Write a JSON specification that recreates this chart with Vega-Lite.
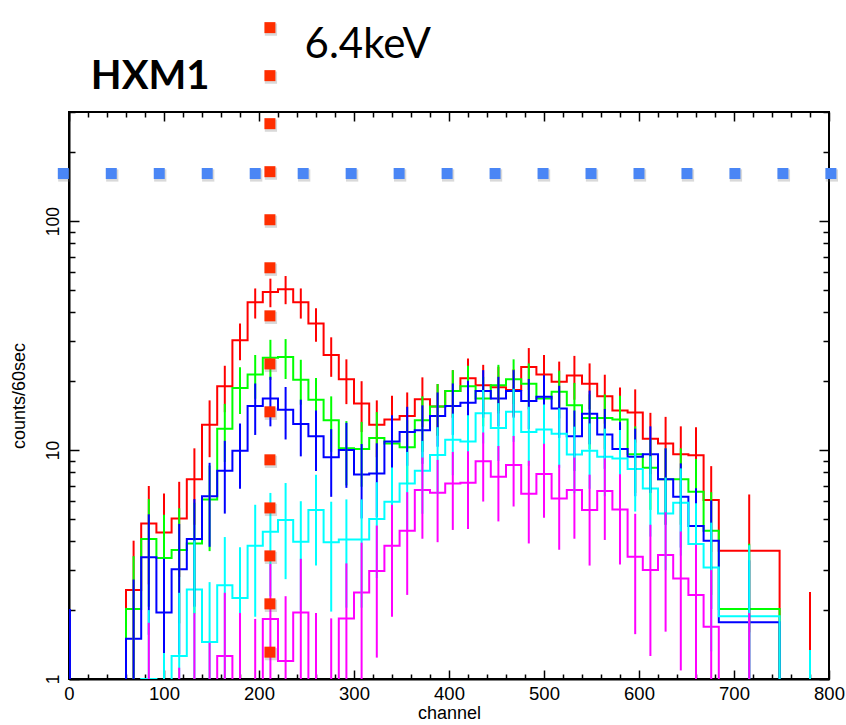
{
  "$schema": "https://vega.github.io/schema/vega-lite/v6.json",
  "width": 760,
  "height": 567,
  "autosize": {"type": "none"},
  "padding": {"left": 69, "top": 112, "right": 17, "bottom": 46},
  "background": "white",
  "config": {"view": {"stroke": "black", "strokeWidth": 2}, "font": "Liberation Sans"},
  "resolve": {"axis": {"x": "independent", "y": "independent"}},
  "datasets": {
    "hist": [
      {"s":"r","x":60,"v":0.5},{"s":"r","x":76,"v":2.45},{"s":"r","x":92,"v":4.78},{"s":"r","x":108,"v":4.37},{"s":"r","x":124,"v":5.03},{"s":"r","x":140,"v":7.45},{"s":"r","x":156,"v":12.9},{"s":"r","x":172,"v":19.0},{"s":"r","x":188,"v":30.2},{"s":"r","x":204,"v":44.2},{"s":"r","x":220,"v":49.1},{"s":"r","x":236,"v":50.5},{"s":"r","x":252,"v":44.2},{"s":"r","x":268,"v":35.7},{"s":"r","x":284,"v":26.0},{"s":"r","x":300,"v":20.4},{"s":"r","x":316,"v":16.0},{"s":"r","x":332,"v":12.9},{"s":"r","x":348,"v":13.6},{"s":"r","x":364,"v":14.1},{"s":"r","x":380,"v":16.7},{"s":"r","x":396,"v":15.5},{"s":"r","x":412,"v":18.1},{"s":"r","x":428,"v":20.6},{"s":"r","x":444,"v":19.2},{"s":"r","x":460,"v":18.8},{"s":"r","x":476,"v":18.3},{"s":"r","x":492,"v":23.1},{"s":"r","x":508,"v":21.4},{"s":"r","x":524,"v":19.9},{"s":"r","x":540,"v":21.2},{"s":"r","x":556,"v":19.5},{"s":"r","x":572,"v":17.2},{"s":"r","x":588,"v":14.9},{"s":"r","x":604,"v":14.6},{"s":"r","x":620,"v":11.2},{"s":"r","x":636,"v":10.7},{"s":"r","x":652,"v":9.6},{"s":"r","x":668,"v":9.5},{"s":"r","x":684,"v":6.05},{"s":"r","x":748,"v":3.63},{"s":"r","x":812,"v":0.5},
      {"s":"g","x":60,"v":0.5},{"s":"g","x":76,"v":2.02},{"s":"g","x":92,"v":4.09},{"s":"g","x":108,"v":3.38},{"s":"g","x":124,"v":3.66},{"s":"g","x":140,"v":3.91},{"s":"g","x":156,"v":6.09},{"s":"g","x":172,"v":12.4},{"s":"g","x":188,"v":18.7},{"s":"g","x":204,"v":21.4},{"s":"g","x":220,"v":25.3},{"s":"g","x":236,"v":25.5},{"s":"g","x":252,"v":20.3},{"s":"g","x":268,"v":16.6},{"s":"g","x":284,"v":13.5},{"s":"g","x":300,"v":10.2},{"s":"g","x":316,"v":10.1},{"s":"g","x":332,"v":11.3},{"s":"g","x":348,"v":10.7},{"s":"g","x":364,"v":10.3},{"s":"g","x":380,"v":13.5},{"s":"g","x":396,"v":15.5},{"s":"g","x":412,"v":18.1},{"s":"g","x":428,"v":19.0},{"s":"g","x":444,"v":16.8},{"s":"g","x":460,"v":19.2},{"s":"g","x":476,"v":20.4},{"s":"g","x":492,"v":19.5},{"s":"g","x":508,"v":16.8},{"s":"g","x":524,"v":18.0},{"s":"g","x":540,"v":15.7},{"s":"g","x":556,"v":13.8},{"s":"g","x":572,"v":13.8},{"s":"g","x":588,"v":13.6},{"s":"g","x":604,"v":9.6},{"s":"g","x":620,"v":8.37},{"s":"g","x":636,"v":7.45},{"s":"g","x":652,"v":7.45},{"s":"g","x":668,"v":6.58},{"s":"g","x":684,"v":4.44},{"s":"g","x":748,"v":2.02},{"s":"g","x":812,"v":0.5},
      {"s":"b","x":0,"v":0.5},{"s":"b","x":1,"v":2.0},{"s":"b","x":60,"v":0.5},{"s":"b","x":76,"v":1.5},{"s":"b","x":92,"v":3.4},{"s":"b","x":108,"v":1.95},{"s":"b","x":124,"v":3.02},{"s":"b","x":140,"v":4.09},{"s":"b","x":156,"v":6.29},{"s":"b","x":172,"v":8.13},{"s":"b","x":188,"v":9.93},{"s":"b","x":204,"v":15.6},{"s":"b","x":220,"v":16.8},{"s":"b","x":236,"v":15.0},{"s":"b","x":252,"v":13.0},{"s":"b","x":268,"v":11.5},{"s":"b","x":284,"v":9.3},{"s":"b","x":300,"v":10.0},{"s":"b","x":316,"v":7.83},{"s":"b","x":332,"v":7.9},{"s":"b","x":348,"v":10.9},{"s":"b","x":364,"v":12.0},{"s":"b","x":380,"v":12.2},{"s":"b","x":396,"v":14.1},{"s":"b","x":412,"v":15.6},{"s":"b","x":428,"v":16.1},{"s":"b","x":444,"v":18.1},{"s":"b","x":460,"v":16.8},{"s":"b","x":476,"v":18.1},{"s":"b","x":492,"v":16.4},{"s":"b","x":508,"v":17.1},{"s":"b","x":524,"v":15.2},{"s":"b","x":540,"v":11.5},{"s":"b","x":556,"v":14.4},{"s":"b","x":572,"v":11.7},{"s":"b","x":588,"v":10.1},{"s":"b","x":604,"v":9.35},{"s":"b","x":620,"v":9.6},{"s":"b","x":636,"v":7.45},{"s":"b","x":652,"v":6.25},{"s":"b","x":668,"v":4.66},{"s":"b","x":684,"v":4.02},{"s":"b","x":748,"v":1.77},{"s":"b","x":812,"v":0.5},
      {"s":"c","x":60,"v":0.5},{"s":"c","x":76,"v":0.5},{"s":"c","x":92,"v":1.0},{"s":"c","x":108,"v":0.5},{"s":"c","x":124,"v":1.26},{"s":"c","x":140,"v":2.46},{"s":"c","x":156,"v":1.45},{"s":"c","x":172,"v":2.57},{"s":"c","x":188,"v":2.26},{"s":"c","x":204,"v":3.82},{"s":"c","x":220,"v":4.4},{"s":"c","x":236,"v":4.95},{"s":"c","x":252,"v":3.98},{"s":"c","x":268,"v":5.47},{"s":"c","x":284,"v":3.96},{"s":"c","x":300,"v":4.07},{"s":"c","x":316,"v":4.07},{"s":"c","x":332,"v":5.0},{"s":"c","x":348,"v":5.95},{"s":"c","x":364,"v":7.15},{"s":"c","x":380,"v":8.12},{"s":"c","x":396,"v":9.51},{"s":"c","x":412,"v":11.1},{"s":"c","x":428,"v":10.9},{"s":"c","x":444,"v":14.5},{"s":"c","x":460,"v":12.5},{"s":"c","x":476,"v":14.7},{"s":"c","x":492,"v":12.0},{"s":"c","x":508,"v":12.3},{"s":"c","x":524,"v":11.8},{"s":"c","x":540,"v":9.57},{"s":"c","x":556,"v":9.93},{"s":"c","x":572,"v":9.35},{"s":"c","x":588,"v":9.2},{"s":"c","x":604,"v":8.26},{"s":"c","x":620,"v":6.8},{"s":"c","x":636,"v":5.29},{"s":"c","x":652,"v":5.89},{"s":"c","x":668,"v":3.89},{"s":"c","x":684,"v":3.07},{"s":"c","x":748,"v":1.88},{"s":"c","x":812,"v":0.5},
      {"s":"m","x":60,"v":0.5},{"s":"m","x":76,"v":0.5},{"s":"m","x":92,"v":0.5},{"s":"m","x":108,"v":0.5},{"s":"m","x":124,"v":0.5},{"s":"m","x":140,"v":0.5},{"s":"m","x":156,"v":0.5},{"s":"m","x":172,"v":1.26},{"s":"m","x":188,"v":0.5},{"s":"m","x":204,"v":0.5},{"s":"m","x":220,"v":1.83},{"s":"m","x":236,"v":1.2},{"s":"m","x":252,"v":1.95},{"s":"m","x":268,"v":0.5},{"s":"m","x":284,"v":0.5},{"s":"m","x":300,"v":1.84},{"s":"m","x":316,"v":2.39},{"s":"m","x":332,"v":2.96},{"s":"m","x":348,"v":3.82},{"s":"m","x":364,"v":4.44},{"s":"m","x":380,"v":6.69},{"s":"m","x":396,"v":6.51},{"s":"m","x":412,"v":7.15},{"s":"m","x":428,"v":7.2},{"s":"m","x":444,"v":8.95},{"s":"m","x":460,"v":7.65},{"s":"m","x":476,"v":8.6},{"s":"m","x":492,"v":6.45},{"s":"m","x":508,"v":7.86},{"s":"m","x":524,"v":6.15},{"s":"m","x":540,"v":6.69},{"s":"m","x":556,"v":5.47},{"s":"m","x":572,"v":6.62},{"s":"m","x":588,"v":5.5},{"s":"m","x":604,"v":3.42},{"s":"m","x":620,"v":2.99},{"s":"m","x":636,"v":3.48},{"s":"m","x":652,"v":2.75},{"s":"m","x":668,"v":2.33},{"s":"m","x":684,"v":1.69},{"s":"m","x":748,"v":0.5},{"s":"m","x":812,"v":0.5}
    ],
    "err": [
      {"s":"r","c":68,"lo":0.89,"hi":4.02},{"s":"r","c":84,"lo":2.59,"hi":6.97},{"s":"r","c":100,"lo":2.28,"hi":6.46},{"s":"r","c":116,"lo":2.79,"hi":7.27},{"s":"r","c":132,"lo":4.72,"hi":10.18},{"s":"r","c":148,"lo":9.31,"hi":16.49},{"s":"r","c":164,"lo":14.64,"hi":23.36},{"s":"r","c":180,"lo":24.7,"hi":35.7},{"s":"r","c":196,"lo":37.55,"hi":50.85},{"s":"r","c":212,"lo":42.09,"hi":56.11},{"s":"r","c":228,"lo":43.39,"hi":57.61},{"s":"r","c":244,"lo":37.55,"hi":50.85},{"s":"r","c":260,"lo":29.73,"hi":41.68},{"s":"r","c":276,"lo":20.9,"hi":31.1},{"s":"r","c":292,"lo":15.88,"hi":24.92},{"s":"r","c":308,"lo":12,"hi":20},{"s":"r","c":324,"lo":9.31,"hi":16.49},{"s":"r","c":340,"lo":9.91,"hi":17.29},{"s":"r","c":356,"lo":10.35,"hi":17.86},{"s":"r","c":372,"lo":12.61,"hi":20.79},{"s":"r","c":388,"lo":11.56,"hi":19.44},{"s":"r","c":404,"lo":13.85,"hi":22.35},{"s":"r","c":420,"lo":16.06,"hi":25.14},{"s":"r","c":436,"lo":14.82,"hi":23.58},{"s":"r","c":452,"lo":14.46,"hi":23.14},{"s":"r","c":468,"lo":14.02,"hi":22.58},{"s":"r","c":484,"lo":18.29,"hi":27.91},{"s":"r","c":500,"lo":16.77,"hi":26.03},{"s":"r","c":516,"lo":15.44,"hi":24.36},{"s":"r","c":532,"lo":16.6,"hi":25.8},{"s":"r","c":548,"lo":15.08,"hi":23.92},{"s":"r","c":564,"lo":13.05,"hi":21.35},{"s":"r","c":580,"lo":11.04,"hi":18.76},{"s":"r","c":596,"lo":10.78,"hi":18.42},{"s":"r","c":612,"lo":7.85,"hi":14.55},{"s":"r","c":628,"lo":7.43,"hi":13.97},{"s":"r","c":644,"lo":6.5,"hi":12.7},{"s":"r","c":660,"lo":6.42,"hi":12.58},{"s":"r","c":676,"lo":3.59,"hi":8.51},{"s":"r","c":716,"lo":1.6,"hi":6.4},{"s":"r","c":780,"lo":0.3,"hi":2.4},
      {"s":"g","c":68,"lo":0.6,"hi":3.44},{"s":"g","c":84,"lo":2.07,"hi":6.11},{"s":"g","c":100,"lo":1.54,"hi":5.22},{"s":"g","c":116,"lo":1.75,"hi":5.57},{"s":"g","c":132,"lo":1.93,"hi":5.89},{"s":"g","c":148,"lo":3.62,"hi":8.56},{"s":"g","c":164,"lo":8.88,"hi":15.92},{"s":"g","c":180,"lo":14.38,"hi":23.02},{"s":"g","c":196,"lo":16.77,"hi":26.03},{"s":"g","c":212,"lo":20.27,"hi":30.33},{"s":"g","c":228,"lo":20.45,"hi":30.55},{"s":"g","c":244,"lo":15.79,"hi":24.81},{"s":"g","c":260,"lo":12.53,"hi":20.67},{"s":"g","c":276,"lo":9.83,"hi":17.17},{"s":"g","c":292,"lo":7.01,"hi":13.39},{"s":"g","c":308,"lo":6.92,"hi":13.28},{"s":"g","c":324,"lo":7.94,"hi":14.66},{"s":"g","c":340,"lo":7.43,"hi":13.97},{"s":"g","c":356,"lo":7.09,"hi":13.51},{"s":"g","c":372,"lo":9.83,"hi":17.17},{"s":"g","c":388,"lo":11.56,"hi":19.44},{"s":"g","c":404,"lo":13.85,"hi":22.35},{"s":"g","c":420,"lo":14.64,"hi":23.36},{"s":"g","c":436,"lo":12.7,"hi":20.9},{"s":"g","c":452,"lo":14.82,"hi":23.58},{"s":"g","c":468,"lo":15.88,"hi":24.92},{"s":"g","c":484,"lo":15.08,"hi":23.92},{"s":"g","c":500,"lo":12.7,"hi":20.9},{"s":"g","c":516,"lo":13.76,"hi":22.24},{"s":"g","c":532,"lo":11.74,"hi":19.66},{"s":"g","c":548,"lo":10.09,"hi":17.52},{"s":"g","c":564,"lo":10.09,"hi":17.52},{"s":"g","c":580,"lo":9.91,"hi":17.29},{"s":"g","c":596,"lo":6.5,"hi":12.7},{"s":"g","c":612,"lo":5.48,"hi":11.26},{"s":"g","c":628,"lo":4.72,"hi":10.18},{"s":"g","c":644,"lo":4.72,"hi":10.18},{"s":"g","c":660,"lo":4.02,"hi":9.15},{"s":"g","c":676,"lo":2.33,"hi":6.55},{"s":"g","c":716,"lo":0.5,"hi":3.9},
      {"s":"b","c":68,"lo":0.3,"hi":2.72},{"s":"b","c":84,"lo":1.56,"hi":5.24},{"s":"b","c":100,"lo":0.55,"hi":3.35},{"s":"b","c":116,"lo":1.28,"hi":4.76},{"s":"b","c":132,"lo":2.07,"hi":6.11},{"s":"b","c":148,"lo":3.78,"hi":8.8},{"s":"b","c":164,"lo":5.28,"hi":10.98},{"s":"b","c":180,"lo":6.78,"hi":13.08},{"s":"b","c":196,"lo":11.65,"hi":19.55},{"s":"b","c":212,"lo":12.7,"hi":20.9},{"s":"b","c":228,"lo":11.13,"hi":18.87},{"s":"b","c":244,"lo":9.39,"hi":16.61},{"s":"b","c":260,"lo":8.11,"hi":14.89},{"s":"b","c":276,"lo":6.25,"hi":12.35},{"s":"b","c":292,"lo":6.84,"hi":13.16},{"s":"b","c":308,"lo":5.03,"hi":10.63},{"s":"b","c":324,"lo":5.09,"hi":10.71},{"s":"b","c":340,"lo":7.6,"hi":14.2},{"s":"b","c":356,"lo":8.54,"hi":15.46},{"s":"b","c":372,"lo":8.71,"hi":15.69},{"s":"b","c":388,"lo":10.35,"hi":17.86},{"s":"b","c":404,"lo":11.65,"hi":19.55},{"s":"b","c":420,"lo":12.09,"hi":20.11},{"s":"b","c":436,"lo":13.85,"hi":22.35},{"s":"b","c":452,"lo":12.7,"hi":20.9},{"s":"b","c":468,"lo":13.85,"hi":22.35},{"s":"b","c":484,"lo":12.35,"hi":20.45},{"s":"b","c":500,"lo":12.96,"hi":21.24},{"s":"b","c":516,"lo":11.3,"hi":19.1},{"s":"b","c":532,"lo":8.11,"hi":14.89},{"s":"b","c":548,"lo":10.6,"hi":18.2},{"s":"b","c":564,"lo":8.28,"hi":15.12},{"s":"b","c":580,"lo":6.92,"hi":13.28},{"s":"b","c":596,"lo":6.29,"hi":12.41},{"s":"b","c":612,"lo":6.5,"hi":12.7},{"s":"b","c":628,"lo":4.72,"hi":10.18},{"s":"b","c":644,"lo":3.75,"hi":8.75},{"s":"b","c":660,"lo":2.5,"hi":6.82},{"s":"b","c":676,"lo":2.02,"hi":6.03},{"s":"b","c":716,"lo":0.5,"hi":3.3},
      {"s":"c","c":84,"lo":0.3,"hi":2.0},{"s":"c","c":100,"lo":0.3,"hi":1.3},{"s":"c","c":116,"lo":0.3,"hi":2.38},{"s":"c","c":132,"lo":0.89,"hi":4.03},{"s":"c","c":148,"lo":0.3,"hi":2.65},{"s":"c","c":164,"lo":0.97,"hi":4.17},{"s":"c","c":180,"lo":0.76,"hi":3.76},{"s":"c","c":196,"lo":1.87,"hi":5.77},{"s":"c","c":212,"lo":2.3,"hi":6.5},{"s":"c","c":228,"lo":2.73,"hi":7.18},{"s":"c","c":244,"lo":1.99,"hi":5.98},{"s":"c","c":260,"lo":3.13,"hi":7.81},{"s":"c","c":276,"lo":1.97,"hi":5.95},{"s":"c","c":292,"lo":2.05,"hi":6.09},{"s":"c","c":308,"lo":2.05,"hi":6.09},{"s":"c","c":324,"lo":2.76,"hi":7.24},{"s":"c","c":340,"lo":3.51,"hi":8.39},{"s":"c","c":356,"lo":4.48,"hi":9.82},{"s":"c","c":372,"lo":5.27,"hi":10.97},{"s":"c","c":388,"lo":6.43,"hi":12.59},{"s":"c","c":404,"lo":7.77,"hi":14.43},{"s":"c","c":420,"lo":7.6,"hi":14.2},{"s":"c","c":436,"lo":10.69,"hi":18.31},{"s":"c","c":452,"lo":8.96,"hi":16.04},{"s":"c","c":468,"lo":10.87,"hi":18.53},{"s":"c","c":484,"lo":8.54,"hi":15.46},{"s":"c","c":500,"lo":8.79,"hi":15.81},{"s":"c","c":516,"lo":8.37,"hi":15.24},{"s":"c","c":532,"lo":6.48,"hi":12.66},{"s":"c","c":548,"lo":6.78,"hi":13.08},{"s":"c","c":564,"lo":6.29,"hi":12.41},{"s":"c","c":580,"lo":6.17,"hi":12.23},{"s":"c","c":596,"lo":5.39,"hi":11.13},{"s":"c","c":612,"lo":4.19,"hi":9.41},{"s":"c","c":628,"lo":2.99,"hi":7.59},{"s":"c","c":644,"lo":3.46,"hi":8.32},{"s":"c","c":660,"lo":1.92,"hi":5.86},{"s":"c","c":676,"lo":1.32,"hi":4.82},{"s":"c","c":716,"lo":0.5,"hi":3.84},{"s":"c","c":780,"lo":0.3,"hi":1.34},
      {"s":"m","c":84,"lo":0.3,"hi":1.76},{"s":"m","c":116,"lo":0.3,"hi":1.12},{"s":"m","c":132,"lo":0.3,"hi":1.94},{"s":"m","c":148,"lo":0.3,"hi":1.44},{"s":"m","c":164,"lo":0.3,"hi":2.38},{"s":"m","c":180,"lo":0.3,"hi":1.94},{"s":"m","c":196,"lo":0.3,"hi":1.83},{"s":"m","c":212,"lo":0.48,"hi":3.18},{"s":"m","c":228,"lo":0.3,"hi":2.3},{"s":"m","c":244,"lo":0.55,"hi":3.35},{"s":"m","c":260,"lo":0.3,"hi":1.94},{"s":"m","c":276,"lo":0.3,"hi":1.84},{"s":"m","c":292,"lo":0.48,"hi":3.2},{"s":"m","c":308,"lo":0.84,"hi":3.94},{"s":"m","c":324,"lo":1.24,"hi":4.68},{"s":"m","c":340,"lo":1.87,"hi":5.77},{"s":"m","c":356,"lo":2.33,"hi":6.55},{"s":"m","c":372,"lo":4.1,"hi":9.28},{"s":"m","c":388,"lo":3.96,"hi":9.06},{"s":"m","c":404,"lo":4.48,"hi":9.82},{"s":"m","c":420,"lo":4.52,"hi":9.88},{"s":"m","c":436,"lo":5.96,"hi":11.94},{"s":"m","c":452,"lo":4.88,"hi":10.42},{"s":"m","c":468,"lo":5.67,"hi":11.53},{"s":"m","c":484,"lo":3.91,"hi":8.99},{"s":"m","c":500,"lo":5.06,"hi":10.66},{"s":"m","c":516,"lo":3.67,"hi":8.63},{"s":"m","c":532,"lo":4.1,"hi":9.28},{"s":"m","c":548,"lo":3.13,"hi":7.81},{"s":"m","c":564,"lo":4.05,"hi":9.19},{"s":"m","c":580,"lo":3.16,"hi":7.85},{"s":"m","c":596,"lo":1.57,"hi":5.27},{"s":"m","c":612,"lo":1.26,"hi":4.72},{"s":"m","c":628,"lo":1.61,"hi":5.35},{"s":"m","c":644,"lo":1.09,"hi":4.41},{"s":"m","c":660,"lo":0.8,"hi":3.86},{"s":"m","c":676,"lo":0.39,"hi":2.99},{"s":"m","c":716,"lo":0.3,"hi":1.94}
    ],
    "marks": [
      {"k":"h","c":-6.0,"v":161.6},{"k":"h","c":44.5,"v":161.6},{"k":"h","c":95.0,"v":161.6},{"k":"h","c":145.5,"v":161.6},{"k":"h","c":196.0,"v":161.6},{"k":"h","c":246.5,"v":161.6},{"k":"h","c":297.0,"v":161.6},{"k":"h","c":347.5,"v":161.6},{"k":"h","c":398.0,"v":161.6},{"k":"h","c":448.5,"v":161.6},{"k":"h","c":499.0,"v":161.6},{"k":"h","c":549.5,"v":161.6},{"k":"h","c":600.0,"v":161.6},{"k":"h","c":650.5,"v":161.6},{"k":"h","c":701.0,"v":161.6},{"k":"h","c":751.5,"v":161.6},{"k":"h","c":802.0,"v":161.6},
      {"k":"v","c":211.5,"v":701},{"k":"v","c":211.5,"v":432.5},{"k":"v","c":211.5,"v":266.8},{"k":"v","c":211.5,"v":164.6},{"k":"v","c":211.5,"v":101.5},{"k":"v","c":211.5,"v":62.6},{"k":"v","c":211.5,"v":38.6},{"k":"v","c":211.5,"v":23.8},{"k":"v","c":211.5,"v":14.7},{"k":"v","c":211.5,"v":9.07},{"k":"v","c":211.5,"v":5.59},{"k":"v","c":211.5,"v":3.45},{"k":"v","c":211.5,"v":2.13},{"k":"v","c":211.5,"v":1.31}
    ],
    "notes": [
      {"t":"HXM1","c":23,"v":377,"w":"b"},
      {"t":"6.4keV","c":248,"v":515,"w":"n"}
    ]
  },
  "layer": [
    {
      "data": {"name": "hist"},
      "mark": {"type": "line", "interpolate": "step-before", "clip": true, "strokeWidth": 2},
      "encoding": {
        "x": {"field": "x", "type": "quantitative", "scale": {"domain": [0, 800], "nice": false, "zero": false},
          "axis": {"orient": "bottom", "values": [0,20,40,60,80,100,120,140,160,180,200,220,240,260,280,300,320,340,360,380,400,420,440,460,480,500,520,540,560,580,600,620,640,660,680,700,720,740,760,780,800],
            "labelExpr": "datum.value % 100 === 0 ? '' + datum.value : ''",
            "tickSize": {"condition": {"test": "datum.value % 100 === 0", "value": -9}, "value": -5},
            "tickWidth": 1.5, "tickColor": "black", "domainColor": "black", "domainWidth": 2,
            "labelFont": "Liberation Sans", "labelFontSize": 18.5, "labelColor": "black", "labelPadding": 14,
            "labelFlush": false, "labelOverlap": false, "grid": false,
            "title": "channel", "titleFont": "Liberation Sans", "titleFontSize": 18, "titleFontWeight": "normal", "titleColor": "black", "titlePadding": -2}},
        "y": {"field": "v", "type": "quantitative", "scale": {"type": "log", "domain": [1, 300], "nice": false},
          "axis": {"orient": "left", "values": [1,2,3,4,5,6,7,8,9,10,20,30,40,50,60,70,80,90,100,200,300],
            "labelExpr": "(datum.value === 1 || datum.value === 10 || datum.value === 100) ? '' + datum.value : ''",
            "tickSize": {"condition": {"test": "datum.value === 1 || datum.value === 10 || datum.value === 100", "value": -10}, "value": -6},
            "tickWidth": 1.5, "tickColor": "black", "domainColor": "black", "domainWidth": 2,
            "labelFont": "Liberation Sans", "labelFontSize": 17.5, "labelColor": "black", "labelPadding": 21,
            "labelAngle": -90, "labelAlign": "center", "labelBaseline": "alphabetic",
            "labelFlush": false, "labelOverlap": false, "grid": false,
            "title": "counts/60sec", "titleFont": "Liberation Sans", "titleFontSize": 18, "titleFontWeight": "normal", "titleColor": "black", "titlePadding": 12}},
        "color": {"field": "s", "type": "nominal", "scale": {"domain": ["r","g","b","c","m"], "range": ["#ff0000","#00ff00","#0000ff","#00ffff","#ff00ff"]}, "legend": null}
      }
    },
    {
      "data": {"name": "err"},
      "mark": {"type": "rule", "clip": true, "strokeWidth": 2},
      "encoding": {
        "x": {"field": "c", "type": "quantitative", "scale": {"domain": [0, 800], "nice": false, "zero": false}, "axis": null},
        "y": {"field": "lo", "type": "quantitative", "scale": {"type": "log", "domain": [1, 300], "nice": false}, "axis": null},
        "y2": {"field": "hi"},
        "color": {"field": "s", "type": "nominal", "legend": null}
      }
    },
    {
      "data": {"name": "marks"},
      "mark": {"type": "point", "shape": "square", "filled": true, "size": 150, "color": "#666666", "opacity": 0.25, "xOffset": 1, "yOffset": 2, "clip": false, "strokeWidth": 0},
      "encoding": {
        "x": {"field": "c", "type": "quantitative", "axis": null},
        "y": {"field": "v", "type": "quantitative", "axis": null}
      }
    },
    {
      "data": {"name": "marks"},
      "transform": [{"filter": "datum.k === 'h'"}],
      "mark": {"type": "point", "shape": "square", "filled": true, "size": 121, "color": "#4a86f5", "opacity": 1, "clip": false, "strokeWidth": 0},
      "encoding": {
        "x": {"field": "c", "type": "quantitative",
          "axis": {"orient": "top", "values": [0,20,40,60,80,100,120,140,160,180,200,220,240,260,280,300,320,340,360,380,400,420,440,460,480,500,520,540,560,580,600,620,640,660,680,700,720,740,760,780,800],
            "labels": false, "domain": false, "grid": false, "title": null,
            "tickSize": {"condition": {"test": "datum.value % 100 === 0", "value": -9}, "value": -5},
            "tickWidth": 1.5, "tickColor": "black"}},
        "y": {"field": "v", "type": "quantitative",
          "axis": {"orient": "right", "values": [1,2,3,4,5,6,7,8,9,10,20,30,40,50,60,70,80,90,100,200,300],
            "labels": false, "domain": false, "grid": false, "title": null,
            "tickSize": {"condition": {"test": "datum.value === 1 || datum.value === 10 || datum.value === 100", "value": -10}, "value": -6},
            "tickWidth": 1.5, "tickColor": "black"}}
      }
    },
    {
      "data": {"name": "marks"},
      "transform": [{"filter": "datum.k === 'v'"}],
      "mark": {"type": "point", "shape": "square", "filled": true, "size": 121, "color": "#ff2e00", "opacity": 1, "clip": false, "strokeWidth": 0},
      "encoding": {
        "x": {"field": "c", "type": "quantitative", "axis": null},
        "y": {"field": "v", "type": "quantitative", "axis": null}
      }
    },
    {
      "data": {"name": "notes"},
      "transform": [{"filter": "datum.w === 'b'"}],
      "mark": {"type": "text", "font": "Lato", "fontSize": 40, "fontWeight": "bold", "align": "left", "baseline": "alphabetic", "color": "black", "clip": false},
      "encoding": {
        "x": {"field": "c", "type": "quantitative", "axis": null},
        "y": {"field": "v", "type": "quantitative", "axis": null},
        "text": {"field": "t"}
      }
    },
    {
      "data": {"name": "notes"},
      "transform": [{"filter": "datum.w === 'n'"}],
      "mark": {"type": "text", "font": "Lato", "fontSize": 42, "align": "left", "baseline": "alphabetic", "color": "black", "clip": false},
      "encoding": {
        "x": {"field": "c", "type": "quantitative", "axis": null},
        "y": {"field": "v", "type": "quantitative", "axis": null},
        "text": {"field": "t"}
      }
    }
  ]
}
